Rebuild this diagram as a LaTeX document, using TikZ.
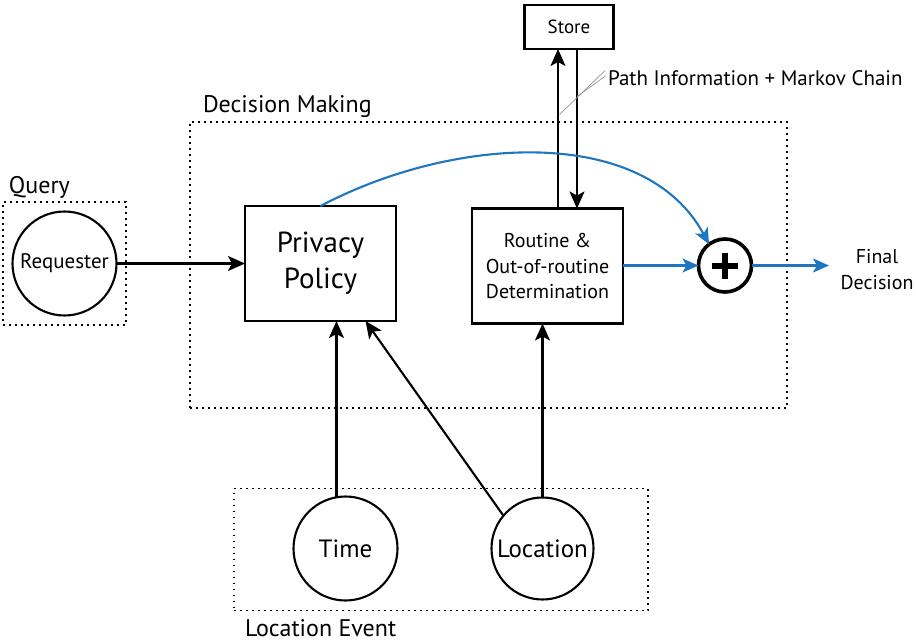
\documentclass[tikz,border=0pt]{standalone}
\usepackage{fontspec}
\setmainfont{PT Sans}
\usetikzlibrary{arrows.meta,calc}
\definecolor{flowblue}{RGB}{31,117,190}
\definecolor{leadergray}{RGB}{150,150,150}
\begin{document}
\begin{tikzpicture}[x=1pt,y=-1pt,
  every node/.style={inner sep=0pt, outer sep=0pt, align=center},
  groupbox/.style={draw, line width=1.8pt, dash pattern=on 1.8pt off 4.2pt, rectangle},
  procbox/.style={draw, line width=2.1pt, rectangle},
  source/.style={draw, circle, line width=2.1pt, minimum size=104pt},
  tip/.style={-{Stealth[length=17pt,width=15pt,inset=4pt]}},
  flow/.style={line width=2.1pt, tip},
  bflow/.style={line width=2.1pt, draw=flowblue, -{Stealth[length=16pt,width=14pt,inset=4pt,fill=flowblue]}},
  leader/.style={draw=leadergray, line width=0.7pt},
  title/.style={anchor=base west, font=\fontsize{24}{28}\selectfont},
]
\useasboundingbox (0,0) rectangle (916,642);

% grouping frames and their captions
\node[groupbox, minimum width=597pt, minimum height=286pt] (dm) at (488.5,265) {};
\node[groupbox, minimum width=123pt, minimum height=123pt] (qry) at (64.5,263.5) {};
\node[groupbox, minimum width=414pt, minimum height=122pt] (lev) at (441,549.5) {};
\node[title] (dmlbl) at (203,112) {Decision Making};
\node[title] (qlbl) at (9,193) {Query};
\node[title] (levlbl) at (245,636) {Location Event};

% sources
\node[source, font=\fontsize{21}{24}\selectfont] (req) at (64.5,263.5) {Requester};
\node[source, font=\fontsize{25}{28}\selectfont] (time) at (345.5,548.5) {Time};
\node[source, minimum size=102pt, font=\fontsize{25}{28}\selectfont] (loc) at (542.5,548.5) {Location};

% processing blocks
\node[procbox, minimum width=151pt, minimum height=115pt,
      font=\fontsize{29}{36}\selectfont] (pp) at (320.5,263.5) {Privacy\\Policy};
\node[procbox, minimum width=151pt, minimum height=115pt,
      font=\fontsize{20}{25.5}\selectfont] (rt) at (547.5,266) {Routine \&\\Out-of-routine\\Determination};
\node[procbox, minimum width=89pt, minimum height=44pt,
      font=\fontsize{19}{22}\selectfont] (store) at (569,27) {Store};

% combiner
\node[draw, circle, line width=3.6pt, minimum size=53pt] (plus) at (725,265.5) {};
\draw[line width=6pt] ($(plus.center)+(-13,0)$) -- ($(plus.center)+(13,0)$)
                      ($(plus.center)+(0,-13)$) -- ($(plus.center)+(0,13)$);

\node[font=\fontsize{20}{26}\selectfont] (fd) at (877,270) {Final\\Decision};
\coordinate (fdin) at (829,265.5);

% black flows
\draw[flow] (req.east) -- (pp.west |- req.east);
\draw[flow] (time.100) -- (time.100 |- pp.south);
\draw[flow] (loc.140) -- ($(pp.south)+(45,0)$);
\draw[flow] (loc.north) -- (loc.north |- rt.south);
\draw[flow] ($(rt.north)+(10.5,0)$) -- ($(store.south)+(-11,0)$);
\draw[flow] ($(store.south)+(8,0)$) -- ($(rt.north)+(29.5,0)$);

% annotation of the store link
\node[anchor=base west, font=\fontsize{21}{24}\selectfont] (pil) at (608,85) {Path Information + Markov Chain};
\draw[leader] ($(pil.west)+(-3,-7)$) -- ($(rt.north)+(12,-94)$);
\draw[leader] ($(pil.west)+(-2,-2)$) -- ($(rt.north)+(29.5,-112)$);

% blue flows
\draw[bflow] (pp.north) .. controls (455,135) and (645,125) .. (plus.127);
\draw[bflow] (rt.east |- plus.west) -- (plus.west);
\draw[bflow] (plus.east) -- (fdin);
\end{tikzpicture}
\end{document}
